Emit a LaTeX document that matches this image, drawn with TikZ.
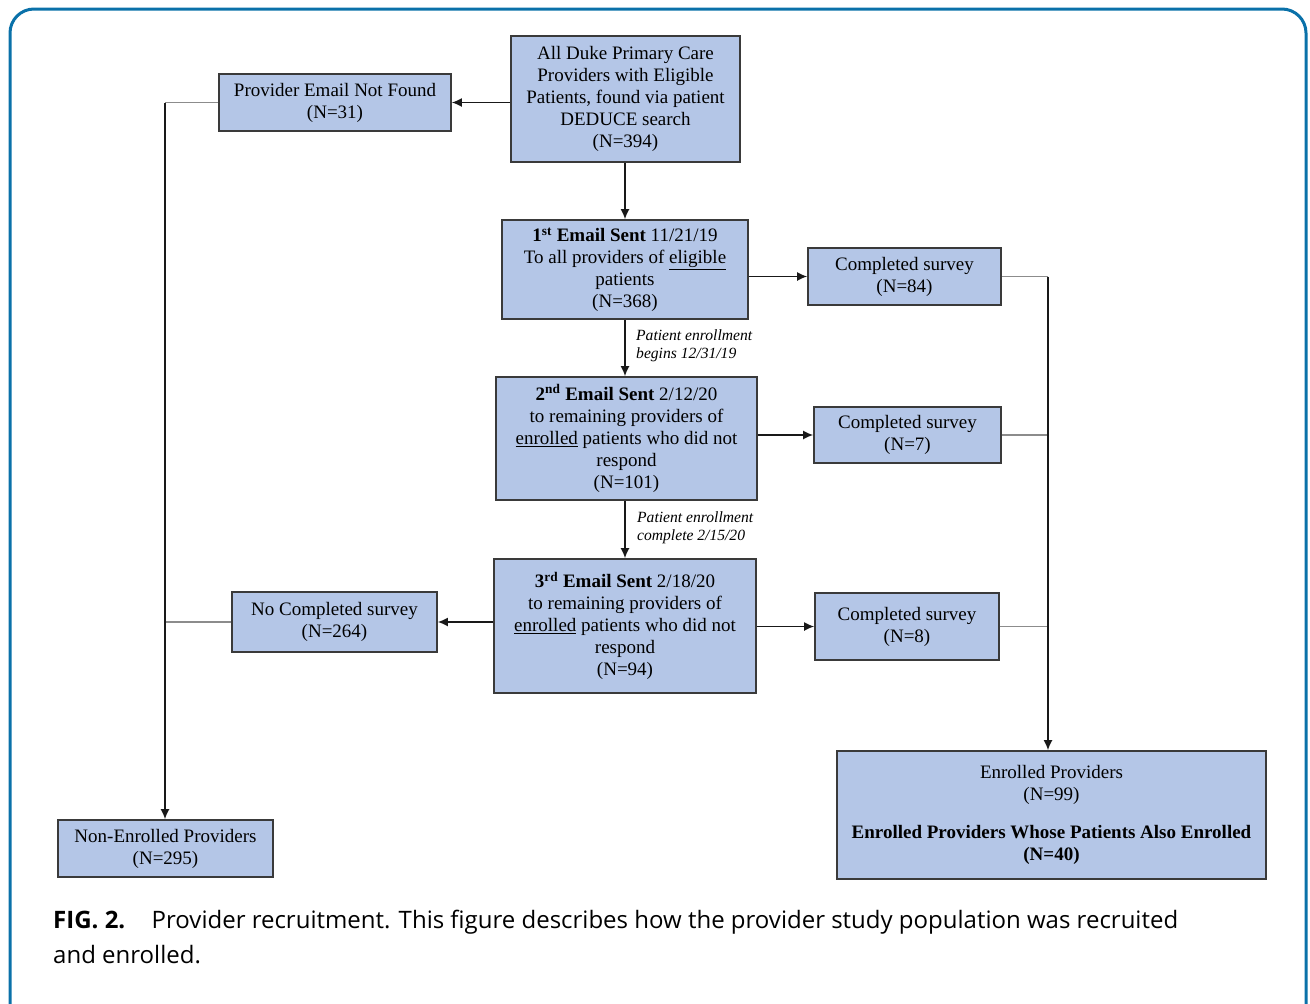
\documentclass[tikz,border=0pt]{standalone}
\usepackage{fontspec}
\setmainfont{Liberation Serif}
\newfontfamily\capfont{Open Sans}
\usetikzlibrary{arrows.meta}
\definecolor{boxblue}{HTML}{B4C6E7}
\definecolor{framec}{HTML}{0A71A9}
\definecolor{boxline}{HTML}{3A3A3A}
\begin{document}
\begin{tikzpicture}[x=1pt,y=-1pt,
  box/.style={draw=boxline,line width=1.6pt,fill=boxblue,align=center,inner sep=0pt,
     font=\fontsize{19}{22}\selectfont},
  arr/.style={draw=black!90,line width=1.6pt,-{Latex[length=10pt,width=9pt]}},
  gl/.style={draw=black!45,line width=1.6pt},
  lab/.style={font=\fontsize{15.6}{18}\selectfont\itshape,align=left,anchor=west,inner sep=0pt}]
\useasboundingbox (0,0) rectangle (1310,1004);
\begin{scope}
\clip (0,0) rectangle (1310,1004);
\draw[framec,line width=3pt,rounded corners=24pt] (10,9) rectangle (1306,1030);
\end{scope}

\node[box,minimum width=229pt,minimum height=126pt] (top) at (625.5,99)
  {All Duke Primary Care\\Providers with Eligible\\Patients, found via patient\\DEDUCE search\\(N=394)};
\node[box,minimum width=232pt,minimum height=57pt] (nf) at (335,102.5)
  {Provider Email Not Found\\(N=31)};
\node[box,minimum width=246pt,minimum height=99pt] (e1) at (625,269.5)
  {\textbf{1\textsuperscript{st} Email Sent} 11/21/19\\To all providers of \underline{eligible}\\patients\\(N=368)};
\node[box,minimum width=193pt,minimum height=57pt] (c1) at (904.5,276.5)
  {Completed survey\\(N=84)};
\node[box,minimum width=261pt,minimum height=123pt] (e2) at (626.5,438.5)
  {\textbf{2\textsuperscript{nd} Email Sent} 2/12/20\\to remaining providers of\\\underline{enrolled} patients who did not\\respond\\(N=101)};
\node[box,minimum width=187pt,minimum height=56pt] (c2) at (907.5,435)
  {Completed survey\\(N=7)};
\node[box,minimum width=262pt,minimum height=134pt] (e3) at (625,626)
  {\textbf{3\textsuperscript{rd} Email Sent} 2/18/20\\to remaining providers of\\\underline{enrolled} patients who did not\\respond\\(N=94)};
\node[box,minimum width=184pt,minimum height=67pt] (c3) at (907,626.5)
  {Completed survey\\(N=8)};
\node[box,minimum width=205pt,minimum height=60pt] (nc) at (334.5,622)
  {No Completed survey\\(N=264)};
\node[box,minimum width=429pt,minimum height=128pt] (enr) at (1051.5,815)
  {Enrolled Providers\\(N=99)\\[0.85em]\textbf{Enrolled Providers Whose Patients Also Enrolled}\\\textbf{(N=40)}};
\node[box,minimum width=215pt,minimum height=57pt] (ne) at (165.5,848.5)
  {Non-Enrolled Providers\\(N=295)};

\coordinate (rb) at (1048,0);
\coordinate (lb) at (165,0);
\coordinate (mx) at (625,0);

% main flow
\draw[arr] (top.south -| mx) -- (mx |- e1.north);
\draw[arr] (top.west |- nf.east) -- (nf.east);
\draw[arr] (e1.east |- c1.west) -- (c1.west);
\draw[arr] (e1.south -| mx) -- (mx |- e2.north);
\draw[arr] (e2.east |- c2.west) -- (c2.west);
\draw[arr] (e2.south -| mx) -- (mx |- e3.north);
\draw[arr] (e3.east |- c3.west) -- (c3.west);
\draw[arr] (e3.west |- nc.east) -- (nc.east);

\node[lab] (l1) at (636,346) {Patient enrollment\\begins 12/31/19};
\node[lab] (l2) at (637,528) {Patient enrollment\\complete 2/15/20};

% right collector
\draw[gl] (c1.east) -- (c1.east -| rb);
\draw[gl] (c2.east) -- (c2.east -| rb);
\draw[gl] (c3.east) -- (c3.east -| rb);
\draw[arr] (c1.east -| rb) -- (rb |- enr.north);

% left collector
\draw[gl] (nf.west) -- (nf.west -| lb);
\draw[gl] (nc.west) -- (nc.west -| lb);
\draw[arr] (nf.west -| lb) -- (lb |- ne.north);

% caption
\node[anchor=west,inner sep=0pt,font=\capfont\fontsize{24}{35}\selectfont,align=left] (cap) at (53,937)
  {\textbf{FIG. 2.}\hspace{1.1em}Provider recruitment. This figure describes how the provider study population was recruited\\and enrolled.};
\end{tikzpicture}
\end{document}
